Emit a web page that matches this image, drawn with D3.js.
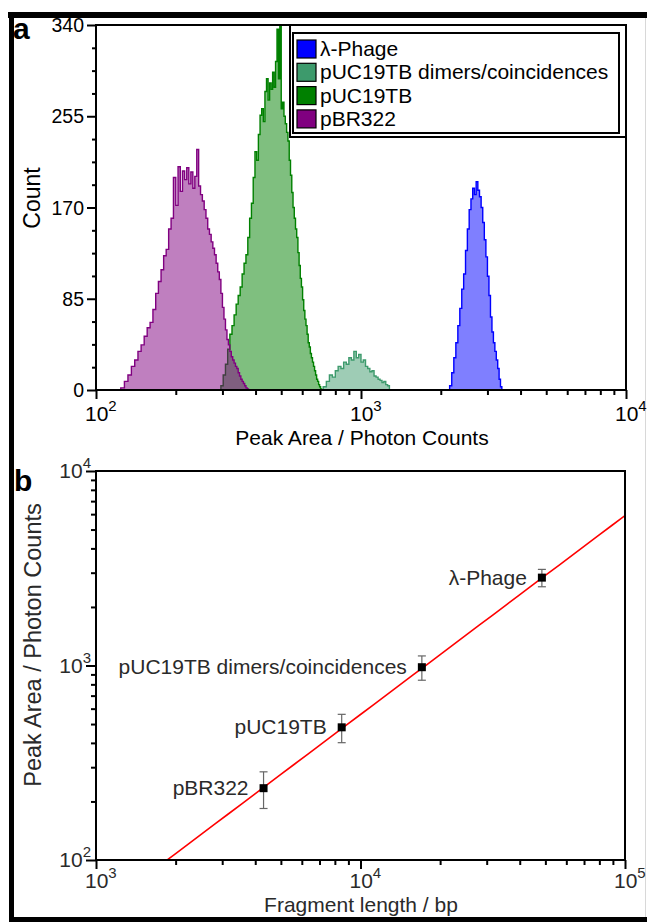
<!DOCTYPE html>
<html>
<head>
<meta charset="utf-8">
<script src="https://cdn.jsdelivr.net/npm/d3@7"></script>
<style>
  body { margin: 0; background: #fff; }
  text { font-family: "Liberation Sans", Arial, Helvetica, sans-serif; }
</style>
</head>
<body>
<div id="chart"></div>
<script>
// ---- panel a: histograms (linear bins: start, width, counts) ----
const seriesNames = ["λ-Phage", "pUC19TB dimers/coincidences", "pUC19TB", "pBR322"];
const seriesColors = ["#0000ff", "#3d9a6c", "#008000", "#800080"];

const phageStart = 2160, phageStep = 40;
const phageCounts = [4, 16, 30, 44, 60, 76, 94, 108, 130, 150, 168, 178, 188, 182, 194, 186,
  180, 170, 156, 140, 124, 106, 88, 68, 54, 44, 36, 28, 20, 10, 3];

const dimerStart = 720, dimerStep = 20;
const dimerCounts = [3, 8, 14, 12, 18, 22, 20, 26, 24, 30, 28, 36, 30, 33, 26, 28,
  22, 20, 17, 18, 13, 12, 10, 9, 7, 8, 5, 4];

const pucStart = 296, pucStep = 6;
const pucCounts = [4, 14, 24, 38, 52, 60, 70, 80, 88, 96, 108, 118, 126, 142, 160, 174,
  198, 222, 214, 238, 256, 262, 250, 278, 290, 270, 286, 280, 296, 282, 306, 336,
  290, 340, 262, 268, 255, 248, 240, 232, 214, 200, 184, 170, 160, 150, 142, 128,
  116, 104, 96, 84, 74, 66, 60, 52, 44, 40, 34, 30, 26, 22, 18, 14, 10, 8, 5, 3, 1];

const pbrStart = 124, pbrStep = 4;
const pbrCounts = [2, 8, 14, 22, 28, 36, 42, 50, 58, 63, 75, 90, 101, 112, 125, 131,
  150, 160, 198, 172, 208, 185, 204, 196, 207, 192, 203, 188, 199, 224, 190, 182,
  176, 168, 160, 150, 145, 138, 132, 126, 118, 110, 103, 90, 77, 66, 56, 47,
  42, 36, 31, 28, 25, 22, 20, 16, 13, 10, 8, 6, 4, 2, 1];

const countTicks = [0, 85, 170, 255, 340];

// ---- panel b: peak area vs fragment length ----
const fragNames = ["pBR322", "pUC19TB", "pUC19TB dimers/coincidences", "λ-Phage"];
const fragLength = [4300, 8490, 17060, 48502];
const peakArea = [234, 481, 980, 2830];
const peakErr = [50, 80, 140, 290];
const fitSlope = 1.023, fitIntercept = -1.344;

const W = 647, H = 922;
const svg = d3.select("#chart").append("svg").attr("width", W).attr("height", H);

// figure frame
svg.append("rect").attr("x", 8).attr("y", 12).attr("width", W - 8).attr("height", 6).attr("fill", "#000");
svg.append("rect").attr("x", 9).attr("y", 12).attr("width", 5).attr("height", H - 12).attr("fill", "#000");
svg.append("rect").attr("x", 9).attr("y", 917).attr("width", W - 9).attr("height", 5).attr("fill", "#000");
svg.append("line").attr("x1", 645.5).attr("x2", 645.5).attr("y1", 18).attr("y2", 917)
  .attr("stroke", "#d8d8d8").attr("stroke-width", 1);

function supLabel(g, x, y, base, exp, anchor, color) {
  const t = g.append("text").attr("x", x).attr("y", y).attr("text-anchor", anchor)
    .attr("font-size", 21).attr("fill", color);
  t.append("tspan").text(base);
  t.append("tspan").attr("dy", -10).attr("font-size", 15).text(exp);
}

function minorLog(lo, hi) {
  const out = [];
  for (let d = lo; d < hi; d *= 10) for (let k = 2; k <= 9; k++) out.push(d * k);
  return out;
}

// ================= panel a =================
const xA = d3.scaleLog().domain([100, 10000]).range([96, 626]);
const yA = d3.scaleLinear().domain([0, 340]).range([390, 25]);

svg.append("clipPath").attr("id", "clipA").append("rect")
  .attr("x", 96).attr("y", 24).attr("width", 530).attr("height", 366);

function histPath(start, step, counts) {
  const pts = [[start, 0]];
  counts.forEach((c, i) => {
    pts.push([start + i * step, c]);
    pts.push([start + (i + 1) * step, c]);
  });
  pts.push([start + counts.length * step, 0]);
  return d3.line().x(d => xA(d[0])).y(d => yA(d[1]))(pts);
}

const hists = [
  [phageStart, phageStep, phageCounts, 0],
  [dimerStart, dimerStep, dimerCounts, 1],
  [pucStart, pucStep, pucCounts, 2],
  [pbrStart, pbrStep, pbrCounts, 3]
];
const gH = svg.append("g").attr("clip-path", "url(#clipA)");
hists.forEach(([s, w, c, k]) => {
  gH.append("path").attr("d", histPath(s, w, c))
    .attr("fill", seriesColors[k]).attr("fill-opacity", 0.5)
    .attr("stroke", seriesColors[k]).attr("stroke-width", 1.4)
    .attr("stroke-linejoin", "miter");
});

// box
svg.append("rect").attr("x", 96).attr("y", 25).attr("width", 530).attr("height", 365)
  .attr("fill", "none").attr("stroke", "#000").attr("stroke-width", 2);

// x axis a
const axAmin = svg.append("g").attr("transform", "translate(0,390)")
  .call(d3.axisBottom(xA).tickValues(minorLog(100, 10000)).tickSize(5).tickFormat(""));
const axAmaj = svg.append("g").attr("transform", "translate(0,390)")
  .call(d3.axisBottom(xA).tickValues([100, 1000, 10000]).tickSize(9).tickFormat(""));
[axAmin, axAmaj].forEach(a => {
  a.select(".domain").remove();
  a.selectAll("line").attr("stroke", "#000").attr("stroke-width", 2);
});
[100, 1000, 10000].forEach(v => supLabel(svg, xA(v) - 11, 421, "10", String(Math.log10(v)), "start", "#000"));

// y axis a
const minorCounts = d3.range(0, 341, 21.25).filter(v => countTicks.indexOf(v) < 0);
const ayMin = svg.append("g").attr("transform", "translate(96,0)")
  .call(d3.axisLeft(yA).tickValues(minorCounts).tickSize(4).tickFormat(""));
const ayMaj = svg.append("g").attr("transform", "translate(96,0)")
  .call(d3.axisLeft(yA).tickValues(countTicks).tickSize(9).tickFormat(""));
[ayMin, ayMaj].forEach(a => {
  a.select(".domain").remove();
  a.selectAll("line").attr("stroke", "#000").attr("stroke-width", 2);
});
countTicks.forEach(v => svg.append("text").attr("x", 84).attr("y", yA(v) + 7)
  .attr("text-anchor", "end").attr("font-size", 19.5).text(v));

svg.append("text").attr("transform", "translate(40,198) rotate(-90)")
  .attr("text-anchor", "middle").attr("font-size", 23).text("Count");
svg.append("text").attr("x", 362).attr("y", 445).attr("text-anchor", "middle")
  .attr("font-size", 21).text("Peak Area / Photon Counts");
svg.append("text").attr("x", 13).attr("y", 39).attr("font-size", 30)
  .attr("font-weight", "bold").text("a");

// legend
svg.append("rect").attr("x", 290).attr("y", 25).attr("width", 336).attr("height", 112)
  .attr("fill", "#fff").attr("stroke", "#000").attr("stroke-width", 2);
svg.append("rect").attr("x", 293).attr("y", 33).attr("width", 326).attr("height", 100)
  .attr("fill", "#fff").attr("stroke", "#000").attr("stroke-width", 2);
seriesNames.forEach((n, i) => {
  const cy = 49 + i * 23.3;
  svg.append("rect").attr("x", 297).attr("y", cy - 9).attr("width", 19).attr("height", 18)
    .attr("fill", seriesColors[i]).attr("stroke", "#000").attr("stroke-width", 1.2);
  svg.append("text").attr("x", 320).attr("y", cy + 7).attr("font-size", 21).text(n);
});

// ================= panel b =================
const xB = d3.scaleLog().domain([1000, 100000]).range([96, 625]);
const yB = d3.scaleLog().domain([100, 10000]).range([860, 471]);
const gray = "#2a2a2a";

svg.append("clipPath").attr("id", "clipB").append("rect")
  .attr("x", 96).attr("y", 471).attr("width", 529).attr("height", 389);

const fitX = d3.range(3, 5.001, 0.05).map(l => Math.pow(10, l));
svg.append("path").attr("clip-path", "url(#clipB)")
  .attr("d", d3.line().x(d => xB(d)).y(d => yB(Math.pow(10, fitIntercept + fitSlope * Math.log10(d))))(fitX))
  .attr("fill", "none").attr("stroke", "#ff0000").attr("stroke-width", 1.6);

fragLength.forEach((fx, i) => {
  const cx = xB(fx);
  const y0 = yB(peakArea[i] - peakErr[i]), y1 = yB(peakArea[i] + peakErr[i]);
  svg.append("line").attr("x1", cx).attr("x2", cx).attr("y1", y0).attr("y2", y1)
    .attr("stroke", "#666").attr("stroke-width", 1.2);
  [y0, y1].forEach(yy => svg.append("line").attr("x1", cx - 4).attr("x2", cx + 4)
    .attr("y1", yy).attr("y2", yy).attr("stroke", "#666").attr("stroke-width", 1.2));
  svg.append("rect").attr("x", cx - 4).attr("y", yB(peakArea[i]) - 4)
    .attr("width", 8).attr("height", 8).attr("fill", "#000");
  svg.append("text").attr("x", cx - 15).attr("y", yB(peakArea[i]) + 7)
    .attr("text-anchor", "end").attr("font-size", 21).attr("fill", gray).text(fragNames[i]);
});

svg.append("rect").attr("x", 96).attr("y", 471).attr("width", 529).attr("height", 389)
  .attr("fill", "none").attr("stroke", "#000").attr("stroke-width", 2);

const bxMin = svg.append("g").attr("transform", "translate(0,860)")
  .call(d3.axisBottom(xB).tickValues(minorLog(1000, 100000)).tickSize(5).tickFormat(""));
const bxMaj = svg.append("g").attr("transform", "translate(0,860)")
  .call(d3.axisBottom(xB).tickValues([1000, 10000, 100000]).tickSize(9).tickFormat(""));
const byMin = svg.append("g").attr("transform", "translate(96,0)")
  .call(d3.axisLeft(yB).tickValues(minorLog(100, 10000)).tickSize(5).tickFormat(""));
const byMaj = svg.append("g").attr("transform", "translate(96,0)")
  .call(d3.axisLeft(yB).tickValues([100, 1000, 10000]).tickSize(10).tickFormat(""));
[bxMin, bxMaj, byMin, byMaj].forEach(a => {
  a.select(".domain").remove();
  a.selectAll("line").attr("stroke", "#000").attr("stroke-width", 2);
});
[1000, 10000, 100000].forEach(v => supLabel(svg, xB(v) - 11, 888, "10", String(Math.log10(v)), "start", gray));
[100, 1000, 10000].forEach(v => supLabel(svg, 91, yB(v) + 7, "10", String(Math.log10(v)), "end", gray));

svg.append("text").attr("transform", "translate(41,645) rotate(-90)")
  .attr("text-anchor", "middle").attr("font-size", 23.5).attr("fill", gray)
  .text("Peak Area / Photon Counts");
svg.append("text").attr("x", 361).attr("y", 912).attr("text-anchor", "middle")
  .attr("font-size", 21).attr("fill", gray).text("Fragment length / bp");
svg.append("text").attr("x", 14).attr("y", 491).attr("font-size", 30)
  .attr("font-weight", "bold").text("b");
</script>
</body>
</html>
